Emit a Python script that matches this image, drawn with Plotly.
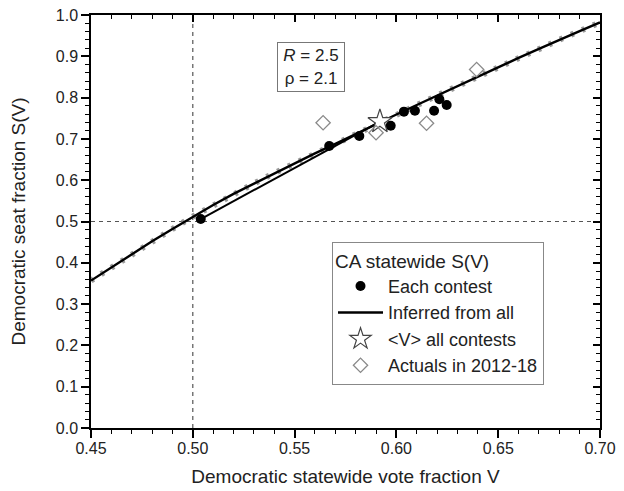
import plotly.graph_objects as go

# ---- data ----
curve_v = [0.45, 0.46, 0.47, 0.48, 0.49, 0.50, 0.51, 0.52, 0.53, 0.54, 0.55, 0.56, 0.57,
           0.58, 0.59, 0.60, 0.61, 0.62, 0.63, 0.64, 0.65, 0.66, 0.67, 0.68, 0.69, 0.70]
curve_s = [0.357, 0.389, 0.420, 0.452, 0.482, 0.512, 0.540, 0.567, 0.592, 0.617, 0.641,
           0.665, 0.688, 0.712, 0.736, 0.759, 0.782, 0.805, 0.828, 0.851, 0.874, 0.896,
           0.918, 0.940, 0.961, 0.982]

chord_v = [0.5039, 0.5919]
chord_s = [0.506, 0.742]

contest_v = [0.5039, 0.567, 0.5818, 0.5972, 0.6037, 0.6091, 0.6185, 0.6211, 0.6247]
contest_s = [0.506, 0.683, 0.707, 0.732, 0.766, 0.768, 0.768, 0.796, 0.782]

mean_v = [0.5919]
mean_s = [0.742]

actual_v = [0.564, 0.590, 0.6148, 0.6394]
actual_s = [0.739, 0.715, 0.738, 0.868]

x_ticks = [0.45, 0.50, 0.55, 0.60, 0.65, 0.70]
x_labels = ["0.45", "0.50", "0.55", "0.60", "0.65", "0.70"]
y_ticks = [0.0, 0.1, 0.2, 0.3, 0.4, 0.5, 0.6, 0.7, 0.8, 0.9, 1.0]
y_labels = ["0.0", "0.1", "0.2", "0.3", "0.4", "0.5", "0.6", "0.7", "0.8", "0.9", "1.0"]

FONT = "Liberation Sans, Arial, sans-serif"
TXT = "#222222"

fig = go.Figure()

# gray dashed under-layer of the curve
fig.add_trace(go.Scatter(x=curve_v, y=curve_s, mode="lines",
                         line=dict(color="#9a9a9a", width=6, dash="3px,9px"),
                         showlegend=False, hoverinfo="skip"))
# chord from first contest to mean
fig.add_trace(go.Scatter(x=chord_v, y=chord_s, mode="lines",
                         line=dict(color="black", width=2),
                         showlegend=False, hoverinfo="skip"))
# contest dots
fig.add_trace(go.Scatter(x=contest_v, y=contest_s, mode="markers", name="Each contest",
                         marker=dict(symbol="circle", size=10, color="black")))
# inferred curve
fig.add_trace(go.Scatter(x=curve_v, y=curve_s, mode="lines", name="Inferred from all",
                         line=dict(color="black", width=2.4)))
# mean star
fig.add_trace(go.Scatter(x=mean_v, y=mean_s, mode="markers", name="&lt;V&gt; all contests",
                         marker=dict(symbol="star", size=18, color="white",
                                     line=dict(color="#444444", width=1.2))))
# actual diamonds
fig.add_trace(go.Scatter(x=actual_v, y=actual_s, mode="markers", name="Actuals in 2012-18",
                         marker=dict(symbol="diamond-open", size=11, color="#8a8a8a",
                                     line=dict(width=1.3))))
# helper trace for mirrored top/right axes
fig.add_trace(go.Scatter(x=[0.45], y=[0.0], xaxis="x2", yaxis="y2", mode="markers",
                         marker=dict(opacity=0), showlegend=False, hoverinfo="skip"))

# dashed reference lines
fig.add_shape(type="line", xref="x", yref="y", x0=0.5, x1=0.5, y0=0.0, y1=1.0,
              line=dict(color="#555555", width=1.2, dash="4px,4px"), layer="below")
fig.add_shape(type="line", xref="x", yref="y", x0=0.45, x1=0.70, y0=0.5, y1=0.5,
              line=dict(color="#555555", width=1.2, dash="4px,4px"), layer="below")

fig.add_annotation(xref="paper", yref="paper", x=0.432, y=0.873,
                   xanchor="center", yanchor="middle",
                   text="<i>R</i> = 2.5<br>ρ = 2.1", showarrow=False,
                   font=dict(family=FONT, size=17, color=TXT), align="center",
                   width=60, height=42,
                   bordercolor="#777777", borderwidth=1, borderpad=3, bgcolor="white")

axis_common = dict(showline=True, linecolor="black", linewidth=1.5, showgrid=False,
                   zeroline=False, automargin=False)

# page body adds an 8px offset, so the figure is sized/margined to compensate
fig.update_layout(
    width=616, height=483,
    margin=dict(l=83, r=24, t=7, b=63),
    paper_bgcolor="white", plot_bgcolor="white",
    font=dict(family=FONT, color=TXT, size=16),
    xaxis=dict(range=[0.45, 0.70], tickvals=x_ticks, ticktext=x_labels,
               ticks="outside", ticklen=8, tickwidth=1.5, tickcolor="black",
               minor=dict(dtick=0.01, ticks="outside", ticklen=4, tickwidth=1.2,
                          tickcolor="black"),
               tickfont=dict(size=16, color=TXT), ticklabelstandoff=-3,
               ticklabeloverflow="allow",
               title=dict(text="Democratic statewide vote fraction V",
                          font=dict(size=19, color=TXT), standoff=14),
               **axis_common),
    yaxis=dict(range=[0.0, 1.0], tickvals=y_ticks, ticktext=y_labels,
               ticks="outside", ticklen=8, tickwidth=1.5, tickcolor="black",
               minor=dict(dtick=0.02, ticks="outside", ticklen=4, tickwidth=1.2,
                          tickcolor="black"),
               tickfont=dict(size=16, color=TXT), ticklabeloverflow="allow",
               title=dict(text="Democratic seat fraction S(V)",
                          font=dict(size=19, color=TXT), standoff=30),
               **axis_common),
    xaxis2=dict(range=[0.45, 0.70], overlaying="x", side="top", anchor="y2",
                tickvals=x_ticks, showticklabels=False,
                ticks="inside", ticklen=7, tickwidth=1.5, tickcolor="black",
                minor=dict(dtick=0.01, ticks="inside", ticklen=4, tickwidth=1.2,
                           tickcolor="black"),
                **axis_common),
    yaxis2=dict(range=[0.0, 1.0], overlaying="y", side="right", anchor="x2",
                tickvals=y_ticks, showticklabels=False,
                ticks="inside", ticklen=7, tickwidth=1.5, tickcolor="black",
                minor=dict(dtick=0.02, ticks="inside", ticklen=4, tickwidth=1.2,
                           tickcolor="black"),
                **axis_common),
    legend=dict(x=0.4735, y=0.45, xanchor="left", yanchor="top",
                bgcolor="white", bordercolor="#888888", borderwidth=1,
                font=dict(family=FONT, size=18, color=TXT),
                title=dict(text="CA statewide S(V)", font=dict(size=19, color=TXT)),
                itemwidth=45, tracegroupgap=0),
    showlegend=True,
)

fig.write_html("out.html")
